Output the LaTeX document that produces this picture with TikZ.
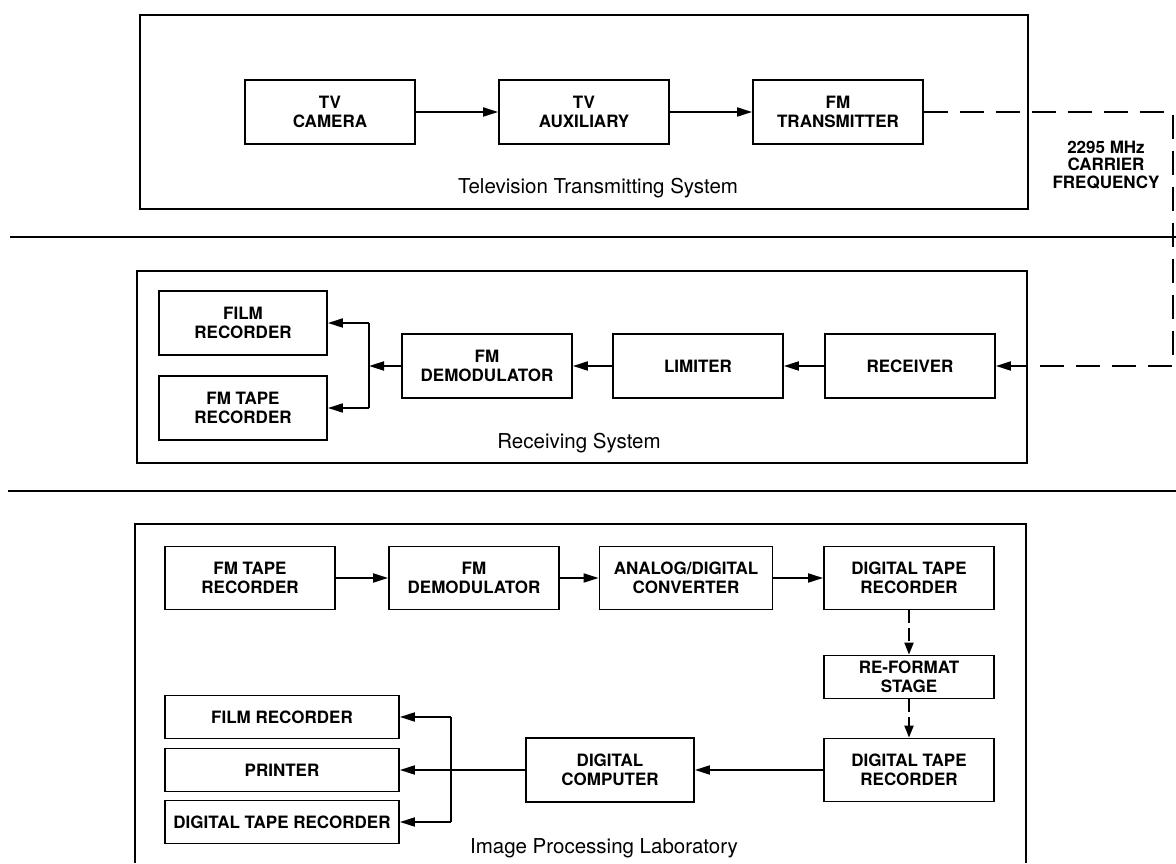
\documentclass[tikz,border=0pt]{standalone}
\usepackage{fontspec}
\setmainfont{TeX Gyre Heros}
\usetikzlibrary{arrows.meta,positioning}
\tikzset{
  blk/.style={draw, line width=1.8pt, minimum width=170pt, minimum height=64pt,
    inner sep=2pt, align=center, font=\fontsize{17}{19}\selectfont\bfseries},
  wblk/.style={blk, minimum width=234pt, minimum height=43pt},
  sblk/.style={blk, minimum height=43pt},
  sysbox/.style={draw, line width=1.8pt},
  syslab/.style={font=\fontsize{20.5}{24}\selectfont},
  caplab/.style={align=center, font=\fontsize{17}{17.5}\selectfont\bfseries},
  sarr/.style={-{Triangle[length=15pt,width=9pt]}, line width=1.9pt},
  darr/.style={sarr, dash pattern=on 24pt off 12pt},
  varr/.style={-{Triangle[length=12pt,width=9pt]}, line width=1.9pt, dash pattern=on 13pt off 5pt},
  sep/.style={line width=1.9pt},
}
\begin{document}
\begin{tikzpicture}[x=1pt,y=1pt]
\useasboundingbox (0,0) rectangle (1176,863);
% television transmitting system
\draw[sysbox] (140,848) rectangle (1028,654);
\node[blk] (cam) at (330,751) {TV\\CAMERA};
\node[blk] (aux) at (584,751) {TV\\AUXILIARY};
\node[blk] (tx) at (838,751) {FM\\TRANSMITTER};
\node[syslab] (tvlab) at (598,675) {Television Transmitting System};
\draw[sarr] (cam) -- (aux);
\draw[sarr] (aux) -- (tx);
\node[caplab] (carrier) at (1106,698) {2295 MHz\\CARRIER\\FREQUENCY};
\draw[sep] (10,626) -- (1176,626);
% receiving system
\draw[sysbox] (137,592) rectangle (1027,400);
\node[blk, minimum width=168pt] (film) at (243,540) {FILM\\RECORDER};
\node[blk, minimum width=168pt] (fmtape) at (243,455) {FM TAPE\\RECORDER};
\node[blk] (demod) at (487,497) {FM\\DEMODULATOR};
\node[blk] (lim) at (698,497) {LIMITER};
\node[blk] (rcv) at (910,497) {RECEIVER};
\node[syslab] (rxlab) at (579,420) {Receiving System};
\coordinate (bend1) at (1173,751);
\coordinate (bend2) at (1173,497);
\draw[darr] (tx.east) -- (bend1) -- (bend2) -- (rcv.east);
\draw[sarr] (rcv) -- (lim);
\draw[sarr] (lim) -- (demod);
\coordinate (rj) at (369,497);
\draw[sarr] (demod.west) -- (rj);
\draw[sep] (rj |- film) -- (rj |- fmtape);
\draw[sarr] (rj |- film) -- (film.east);
\draw[sarr] (rj |- fmtape) -- (fmtape.east);
\draw[sep] (8,372) -- (1176,372);
% image processing laboratory
\draw[sysbox] (135,0) -- (135,339) -- (1026,339) -- (1026,0);
\node[blk, minimum height=63pt] (fmtape2) at (250,285) {FM TAPE\\RECORDER};
\node[blk, minimum height=63pt] (demod2) at (474,285) {FM\\DEMODULATOR};
\node[blk, minimum height=63pt, minimum width=173pt] (adc) at (686,285) {ANALOG/DIGITAL\\CONVERTER};
\node[blk, minimum height=63pt] (dtr1) at (909,285) {DIGITAL TAPE\\RECORDER};
\node[sblk] (reformat) at (909,186) {RE-FORMAT\\STAGE};
\node[blk, minimum height=63pt] (dtr2) at (909,93) {DIGITAL TAPE\\RECORDER};
\node[blk, minimum width=168pt] (comp) at (610,93) {DIGITAL\\COMPUTER};
\node[wblk] (filmrec) at (282,146) {FILM RECORDER};
\node[wblk] (printer) at (282,93) {PRINTER};
\node[wblk] (dtrout) at (282,41) {DIGITAL TAPE RECORDER};
\node[syslab] (iplab) at (604,15) {Image Processing Laboratory};
\draw[sarr] (fmtape2) -- (demod2);
\draw[sarr] (demod2) -- (adc);
\draw[sarr] (adc) -- (dtr1);
\draw[varr] (dtr1) -- (reformat);
\draw[varr] (reformat) -- (dtr2);
\draw[sarr] (dtr2) -- (comp);
\draw[sarr] (comp) -- (printer);
\coordinate (oj) at (451,93);
\draw[sep] (oj |- filmrec) -- (oj |- dtrout);
\draw[sarr] (oj |- filmrec) -- (filmrec.east);
\draw[sarr] (oj |- dtrout) -- (dtrout.east);
\end{tikzpicture}
\end{document}
